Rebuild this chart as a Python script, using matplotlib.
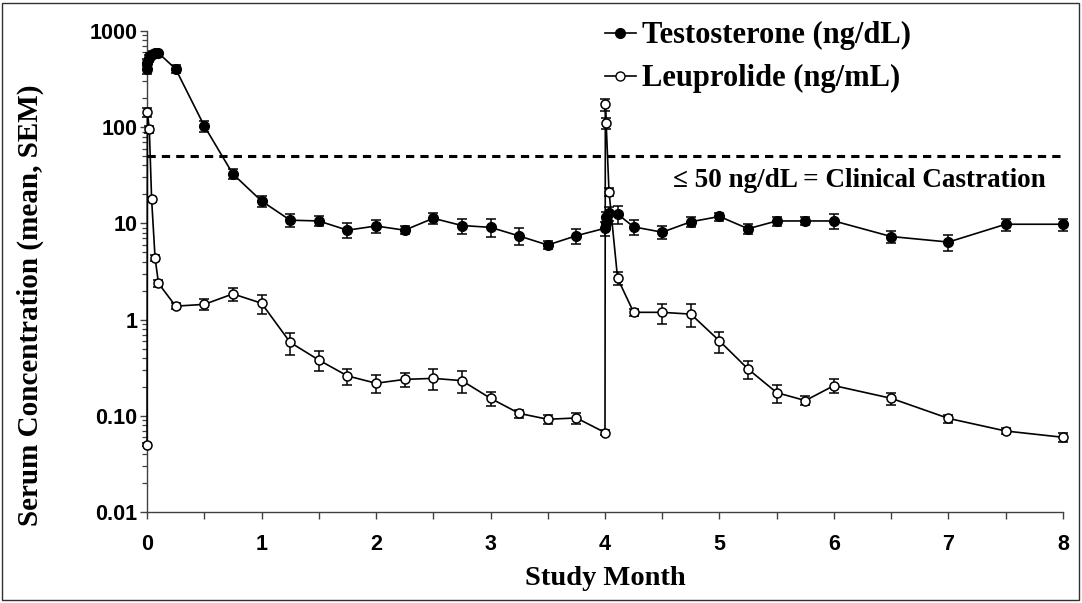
import matplotlib
matplotlib.use('Agg')
import matplotlib.pyplot as plt
from matplotlib.patches import Rectangle
from matplotlib.lines import Line2D
from matplotlib.ticker import FixedLocator, FixedFormatter, LogLocator, NullFormatter, MultipleLocator

# study month / mean / SEM
t_month = [0, 0.003, 0.02, 0.03, 0.05, 0.07, 0.1,
           0.25, 0.5, 0.75, 1.0, 1.25, 1.5, 1.75, 2.0, 2.25, 2.5, 2.75, 3.0, 3.25, 3.5, 3.75,
           4.0, 4.005, 4.01, 4.035, 4.11,
           4.25, 4.5, 4.75, 5.0, 5.25, 5.5, 5.75, 6.0, 6.5, 7.0, 7.5, 8.0]
testo = [400, 470, 520, 555, 580, 590, 590,
         403, 103, 32.6, 17.1, 10.8, 10.6, 8.5, 9.4, 8.5, 11.3, 9.5, 9.1, 7.4, 5.96, 7.45,
         8.9, 10.2, 11.7, 12.7, 12.5,
         9.2, 8.1, 10.4, 11.8, 8.8, 10.6, 10.6, 10.6, 7.3, 6.4, 9.8, 9.8]
testo_sem = [45, 40, 40, 40, 40, 35, 35,
             40, 13, 4, 2.2, 1.6, 1.3, 1.5, 1.4, 0.8, 1.4, 1.7, 1.9, 1.5, 0.6, 1.3,
             1.5, 1.5, 1.5, 2.0, 2.6,
             1.6, 1.2, 1.3, 1.1, 1.1, 1.1, 1.0, 1.8, 1.1, 1.2, 1.4, 1.4]

l_month = [0, 0.003, 0.02, 0.04, 0.07, 0.1,
           0.25, 0.5, 0.75, 1.0, 1.25, 1.5, 1.75, 2.0, 2.25, 2.5, 2.75, 3.0, 3.25, 3.5, 3.75,
           4.0, 4.003, 4.01, 4.035, 4.11,
           4.25, 4.5, 4.75, 5.0, 5.25, 5.5, 5.75, 6.0, 6.5, 7.0, 7.5, 8.0]
leu = [0.05, 143, 95, 17.8, 4.4, 2.38,
       1.38, 1.44, 1.85, 1.48, 0.58, 0.38, 0.26, 0.218, 0.239, 0.245, 0.232, 0.152, 0.106, 0.092, 0.095,
       0.067, 173, 111, 21.4, 2.69,
       1.19, 1.19, 1.14, 0.60, 0.306, 0.174, 0.144, 0.206, 0.152, 0.094, 0.0695, 0.0598]
leu_sem = [0.002, 14, 8, 1.2, 0.35, 0.2,
           0.1, 0.18, 0.28, 0.33, 0.15, 0.09, 0.05, 0.045, 0.04, 0.06, 0.06, 0.025, 0.01, 0.01, 0.012,
           0.004, 25, 15, 2.0, 0.4,
           0.1, 0.28, 0.3, 0.15, 0.065, 0.037, 0.016, 0.035, 0.022, 0.009, 0.005, 0.006]

castration = 50
y_ticks = [0.01, 0.1, 1, 10, 100, 1000]
y_labels = ['0.01', '0.10', '1', '10', '100', '1000']

serif = 'Liberation Serif'
sans = 'Liberation Sans'

fig = plt.figure(figsize=(10.82, 6.03), dpi=100)
ax = fig.add_axes([0.1359, 0.1509, 0.8465, 0.7977])

# outer frame round the whole picture
fig.patches.append(Rectangle((0.002, 0.005), 0.995, 0.99, transform=fig.transFigure,
                             fill=False, ec='#303030', lw=1.0))

ax.errorbar(l_month, leu, yerr=leu_sem, color='black', lw=1.2, marker='o', ms=6.5,
            mfc='white', mec='black', mew=1.1, capsize=3.5, elinewidth=1.1, capthick=1.1,
            clip_on=False, zorder=3)
ax.errorbar(t_month, testo, yerr=testo_sem, color='black', lw=1.2, marker='o', ms=7,
            mfc='black', mec='black', capsize=3.5, elinewidth=1.1, capthick=1.1,
            clip_on=False, zorder=4)

ax.axhline(castration, color='black', lw=2.2, ls=(0, (2.7, 2.0)), zorder=2)
ax.text(0.966, 0.7, '≤ 50 ng/dL = Clinical Castration', transform=fig.transFigure,
        ha='right', va='center', fontsize=19.5, fontweight='bold', family=serif)

ax.set_yscale('log')
ax.set_ylim(0.01, 1000)
ax.set_xlim(0, 8)

ax.yaxis.set_major_locator(FixedLocator(y_ticks))
ax.yaxis.set_major_formatter(FixedFormatter(y_labels))
ax.yaxis.set_minor_locator(LogLocator(base=10, subs=range(2, 10)))
ax.yaxis.set_minor_formatter(NullFormatter())
ax.xaxis.set_major_locator(MultipleLocator(1))
ax.xaxis.set_minor_locator(MultipleLocator(0.5))

for s in ['top', 'right']:
    ax.spines[s].set_visible(False)
for s in ['left', 'bottom']:
    ax.spines[s].set_color('#404040')
    ax.spines[s].set_linewidth(1.0)

ax.tick_params(axis='both', which='major', length=5, width=1, color='#404040')
ax.tick_params(axis='y', which='minor', length=3.5, width=0.9, color='#404040')
ax.tick_params(axis='x', which='minor', length=5, width=1, color='#404040')
for lab in ax.get_xticklabels() + ax.get_yticklabels():
    lab.set_fontfamily(sans)
    lab.set_fontweight('bold')
    lab.set_fontsize(15.5)
ax.tick_params(axis='x', pad=11)
ax.tick_params(axis='y', pad=2)

ax.set_xlabel('Study Month', fontsize=20.5, fontweight='bold', family=serif, labelpad=8)
ax.set_ylabel('Serum Concentration (mean, SEM)', fontsize=21, fontweight='bold', family=serif)
ax.yaxis.set_label_coords(-0.112, 0.43)

# legend keys: plain line with marker, no error bars
keys = [Line2D([], [], color='black', lw=1.2, marker='o', ms=7, mfc='black', mec='black'),
        Line2D([], [], color='black', lw=1.2, marker='o', ms=6.5, mfc='white', mec='black')]
ax.legend(keys, ['Testosterone (ng/dL)', 'Leuprolide (ng/mL)'], loc='upper left',
          bbox_to_anchor=(0.545, 0.99), bbox_transform=fig.transFigure,
          frameon=False, handlelength=1.0, handletextpad=0.2, labelspacing=0.45,
          borderpad=0, prop={'family': serif, 'weight': 'bold', 'size': 22})

fig.savefig('out.png', dpi=100)
